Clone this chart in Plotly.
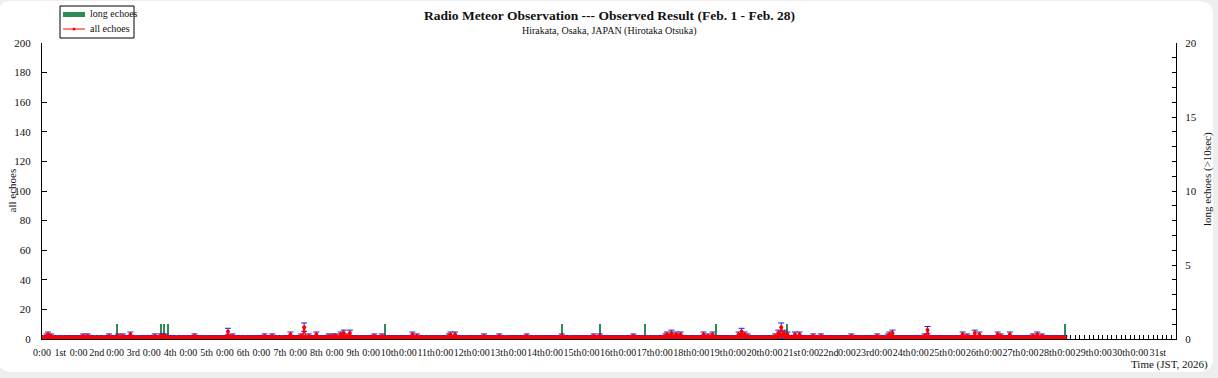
import plotly.graph_objects as go

# ---------------- data ----------------
# hourly counts of all echoes, Feb 1 0:00 .. Feb 28 23:00 (JST), one row per day
all_echoes_by_day = [
    [1,1,1,2,3,1,2,1,1,1,0,1,1,1,0,1,1,1,1,1,1,1,1,1],
    [1,1,1,2,1,1,2,1,1,1,1,0,1,1,1,1,0,1,1,1,2,1,1,1],
    [1,1,2,1,1,2,1,1,1,1,3,1,1,1,0,1,1,1,1,1,1,1,1,1],
    [1,1,2,1,1,1,2,2,1,2,1,1,1,1,1,0,1,1,0,1,1,1,1,1],
    [1,1,1,1,2,1,1,1,1,1,1,0,1,1,1,1,1,1,1,1,1,1,1,1],
    [1,1,5,1,1,2,1,1,1,1,1,1,1,0,1,1,1,1,1,1,1,1,1,1],
    [1,1,2,1,1,1,1,2,1,1,1,1,0,1,1,1,1,1,1,3,1,1,1,1],
    [1,1,2,1,8,1,1,2,1,1,1,1,3,1,1,1,1,1,1,1,2,1,1,2],
    [1,2,1,1,3,1,4,1,2,1,4,1,1,1,1,1,1,1,1,1,1,1,1,1],
    [1,1,2,1,1,1,1,2,1,1,1,1,1,1,1,1,1,1,1,1,1,1,1,1],
    [1,1,1,3,1,1,2,1,1,1,1,1,0,1,1,1,1,1,1,1,1,1,1,1],
    [1,1,1,2,3,1,1,3,1,1,1,1,0,1,1,1,1,1,1,1,1,1,1,1],
    [1,1,2,1,1,1,1,1,1,1,1,1,2,1,1,1,0,1,1,1,1,1,1,1],
    [1,1,1,1,1,1,2,1,1,1,0,1,1,1,1,1,1,1,1,1,1,1,1,1],
    [1,1,1,1,1,2,1,1,1,1,1,0,1,1,1,1,1,1,1,1,1,1,1,1],
    [1,1,2,1,1,1,2,1,1,1,1,1,1,1,1,1,1,1,1,1,1,1,1,1],
    [1,1,1,1,2,1,1,1,1,1,1,1,1,1,1,0,1,1,1,1,1,1,1,1],
    [1,2,3,1,2,4,1,2,3,1,2,3,1,1,1,1,1,1,1,1,1,1,1,1],
    [1,1,3,1,1,2,1,1,3,1,1,1,1,1,1,1,1,1,1,1,1,1,1,1],
    [1,3,1,5,2,3,1,2,1,1,1,1,1,1,1,1,1,1,1,1,1,1,1,1],
    [1,2,1,4,2,8,2,4,1,3,1,1,1,1,3,1,1,3,1,1,1,1,1,1],
    [1,1,2,1,1,1,1,2,1,1,1,1,1,1,1,1,1,1,1,1,1,1,1,1],
    [1,1,1,2,1,1,1,1,1,1,1,1,1,1,1,1,1,1,1,1,2,1,1,1],
    [1,1,1,2,3,1,4,1,1,1,1,1,1,1,1,1,1,1,1,1,1,1,1,1],
    [1,1,1,2,1,6,1,1,1,1,1,1,1,1,1,1,1,1,1,1,1,1,1,1],
    [1,1,1,1,3,1,1,2,1,1,1,1,4,1,1,3,1,1,1,1,1,1,1,1],
    [1,1,1,3,1,2,1,1,1,1,1,3,1,1,1,1,1,1,1,1,1,1,1,1],
    [1,1,2,1,1,3,1,1,2,1,1,1,1,1,1,1,1,1,1,1,1,1,1,1],
]

# hours (since Feb 1 0:00) with long echoes (>10 sec) and their counts
long_echo_hours = [49, 78, 80, 83, 225, 341, 366, 396, 442, 489, 671]
long_echo_counts = [1, 1, 1, 1, 1, 1, 1, 1, 1, 1, 1]

# x-axis tick labels
midnight_labels = ["0:00"] * 31
day_labels = ["1st", "2nd", "3rd"] + [f"{d}th" for d in range(4, 21)] + \
             ["21st", "22nd", "23rd"] + [f"{d}th" for d in range(24, 31)] + ["31st"]

# ---------------- build ----------------
all_echoes = [v for day in all_echoes_by_day for v in day]
hours = list(range(len(all_echoes)))
errors = [v ** 0.5 for v in all_echoes]

tickvals, ticktext = [], []
for d in range(31):
    tickvals.append(24 * d)
    ticktext.append(midnight_labels[d])
    tickvals.append(24 * d + 12)
    ticktext.append(day_labels[d])

W, H = 1218, 378
L, R, T, B = 42, 42, 43, 39
PW, PH = W - L - R, H - T - B


def px(x):
    return (x - L) / PW


def py(y):
    return (H - B - y) / PH


SERIF = "Liberation Serif, Times New Roman, serif"
TXT = "#111111"
GREEN = "#2e8b57"
RED = "#ff0000"

fig = go.Figure()
fig.add_trace(go.Bar(
    x=long_echo_hours, y=long_echo_counts, width=0.8,
    marker=dict(color=GREEN, line=dict(width=0)),
    name="long echoes", yaxis="y", showlegend=False,
))
fig.add_trace(go.Scatter(
    x=hours, y=all_echoes, mode="lines+markers", name="all echoes",
    line=dict(color=RED, width=1.5),
    marker=dict(color=RED, size=4),
    error_y=dict(type="data", array=errors, visible=True, color="#2020c8",
                 thickness=1, width=3),
    yaxis="y2", showlegend=False,
))

# rounded white panel on light gray page
x0, x1, y0, y1 = px(-2), px(1213), py(372), py(1)
rx, ry = 14 / PW, 14 / PH
path = (f"M{x0+rx},{y1} L{x1-rx},{y1} Q{x1},{y1} {x1},{y1-ry} "
        f"L{x1},{y0+ry} Q{x1},{y0} {x1-rx},{y0} L{x0+rx},{y0} "
        f"Q{x0},{y0} {x0},{y0+ry} L{x0},{y1-ry} Q{x0},{y1} {x0+rx},{y1} Z")

shapes = [dict(type="path", path=path, xref="paper", yref="paper",
               fillcolor="white", line=dict(width=0), layer="below")]
# legend box (drawn by hand to match the compact original legend)
shapes += [
    dict(type="rect", xref="paper", yref="paper", x0=px(60), x1=px(134),
         y0=py(38), y1=py(6), fillcolor="white", line=dict(color="black", width=1)),
    dict(type="rect", xref="paper", yref="paper", x0=px(63), x1=px(85),
         y0=py(17), y1=py(12), fillcolor=GREEN, line=dict(width=0)),
    dict(type="line", xref="paper", yref="paper", x0=px(63), x1=px(85),
         y0=py(29), y1=py(29), line=dict(color=RED, width=1)),
    dict(type="circle", xref="paper", yref="paper", x0=px(72.5), x1=px(75.5),
         y0=py(30.5), y1=py(27.5), fillcolor=RED, line=dict(color=RED, width=0)),
]

fig.update_layout(
    width=W, height=H,
    margin=dict(l=L, r=R, t=T, b=B, autoexpand=False),
    paper_bgcolor="#eeeeee", plot_bgcolor="rgba(0,0,0,0)",
    font=dict(family=SERIF, size=11, color=TXT),
    showlegend=False,
    bargap=0,
    shapes=shapes,
    xaxis=dict(range=[0, 744], showgrid=False, zeroline=False,
               showline=True, linecolor="black", linewidth=1,
               layer="below traces",
               tickmode="array", tickvals=tickvals, ticktext=ticktext,
               tickangle=0, ticks="",
               tickfont=dict(family=SERIF, size=10, color=TXT),
               ticklabelstandoff=4,
               minor=dict(ticks="inside", tick0=0, dtick=3, ticklen=4,
                          tickcolor="black", showgrid=False)),
    yaxis=dict(range=[0, 20], side="right", showgrid=False, zeroline=False,
               showline=True, linecolor="black", linewidth=1,
               tickmode="linear", tick0=0, dtick=5, ticks="inside", ticklen=4,
               tickcolor="black", ticklabelstandoff=6,
               tickfont=dict(family=SERIF, size=11, color=TXT),
               minor=dict(ticks="inside", dtick=1, ticklen=4, tickcolor="black",
                          showgrid=False)),
    yaxis2=dict(range=[0, 200], side="left", overlaying="y", showgrid=False,
                zeroline=False, showline=True, linecolor="black", linewidth=1,
                tickmode="linear", tick0=0, dtick=20, ticks="inside", ticklen=5,
                tickcolor="black", ticklabelstandoff=8,
                tickfont=dict(family=SERIF, size=11, color=TXT)),
    annotations=[
        dict(text="<b>Radio Meteor Observation --- Observed Result (Feb. 1 - Feb. 28)</b>",
             x=0.5, y=py(16), xref="paper", yref="paper", showarrow=False,
             xanchor="center", yanchor="middle",
             font=dict(family=SERIF, size=13.5, color=TXT)),
        dict(text="Hirakata, Osaka, JAPAN (Hirotaka Otsuka)",
             x=0.5, y=py(31), xref="paper", yref="paper", showarrow=False,
             xanchor="center", yanchor="middle",
             font=dict(family=SERIF, size=10, color=TXT)),
        dict(text="long echoes", x=px(88), y=py(14), xref="paper", yref="paper",
             showarrow=False, xanchor="left", yanchor="middle",
             font=dict(family=SERIF, size=10, color=TXT)),
        dict(text="all echoes", x=px(88), y=py(29), xref="paper", yref="paper",
             showarrow=False, xanchor="left", yanchor="middle",
             font=dict(family=SERIF, size=10, color=TXT)),
        dict(text="all echoes", x=px(11.5), y=0.5, xref="paper", yref="paper",
             showarrow=False, textangle=-90, xanchor="center", yanchor="middle",
             font=dict(family=SERIF, size=11, color=TXT)),
        dict(text="long echoes (&gt;10sec)", x=px(1207), y=py(179),
             xref="paper", yref="paper", showarrow=False, textangle=-90,
             xanchor="center", yanchor="middle",
             font=dict(family=SERIF, size=11, color=TXT)),
        dict(text="Time (JST, 2026)", x=px(1210), y=py(364),
             xref="paper", yref="paper", showarrow=False,
             xanchor="right", yanchor="middle",
             font=dict(family=SERIF, size=11, color=TXT)),
    ],
)

fig.write_html("out.html")
